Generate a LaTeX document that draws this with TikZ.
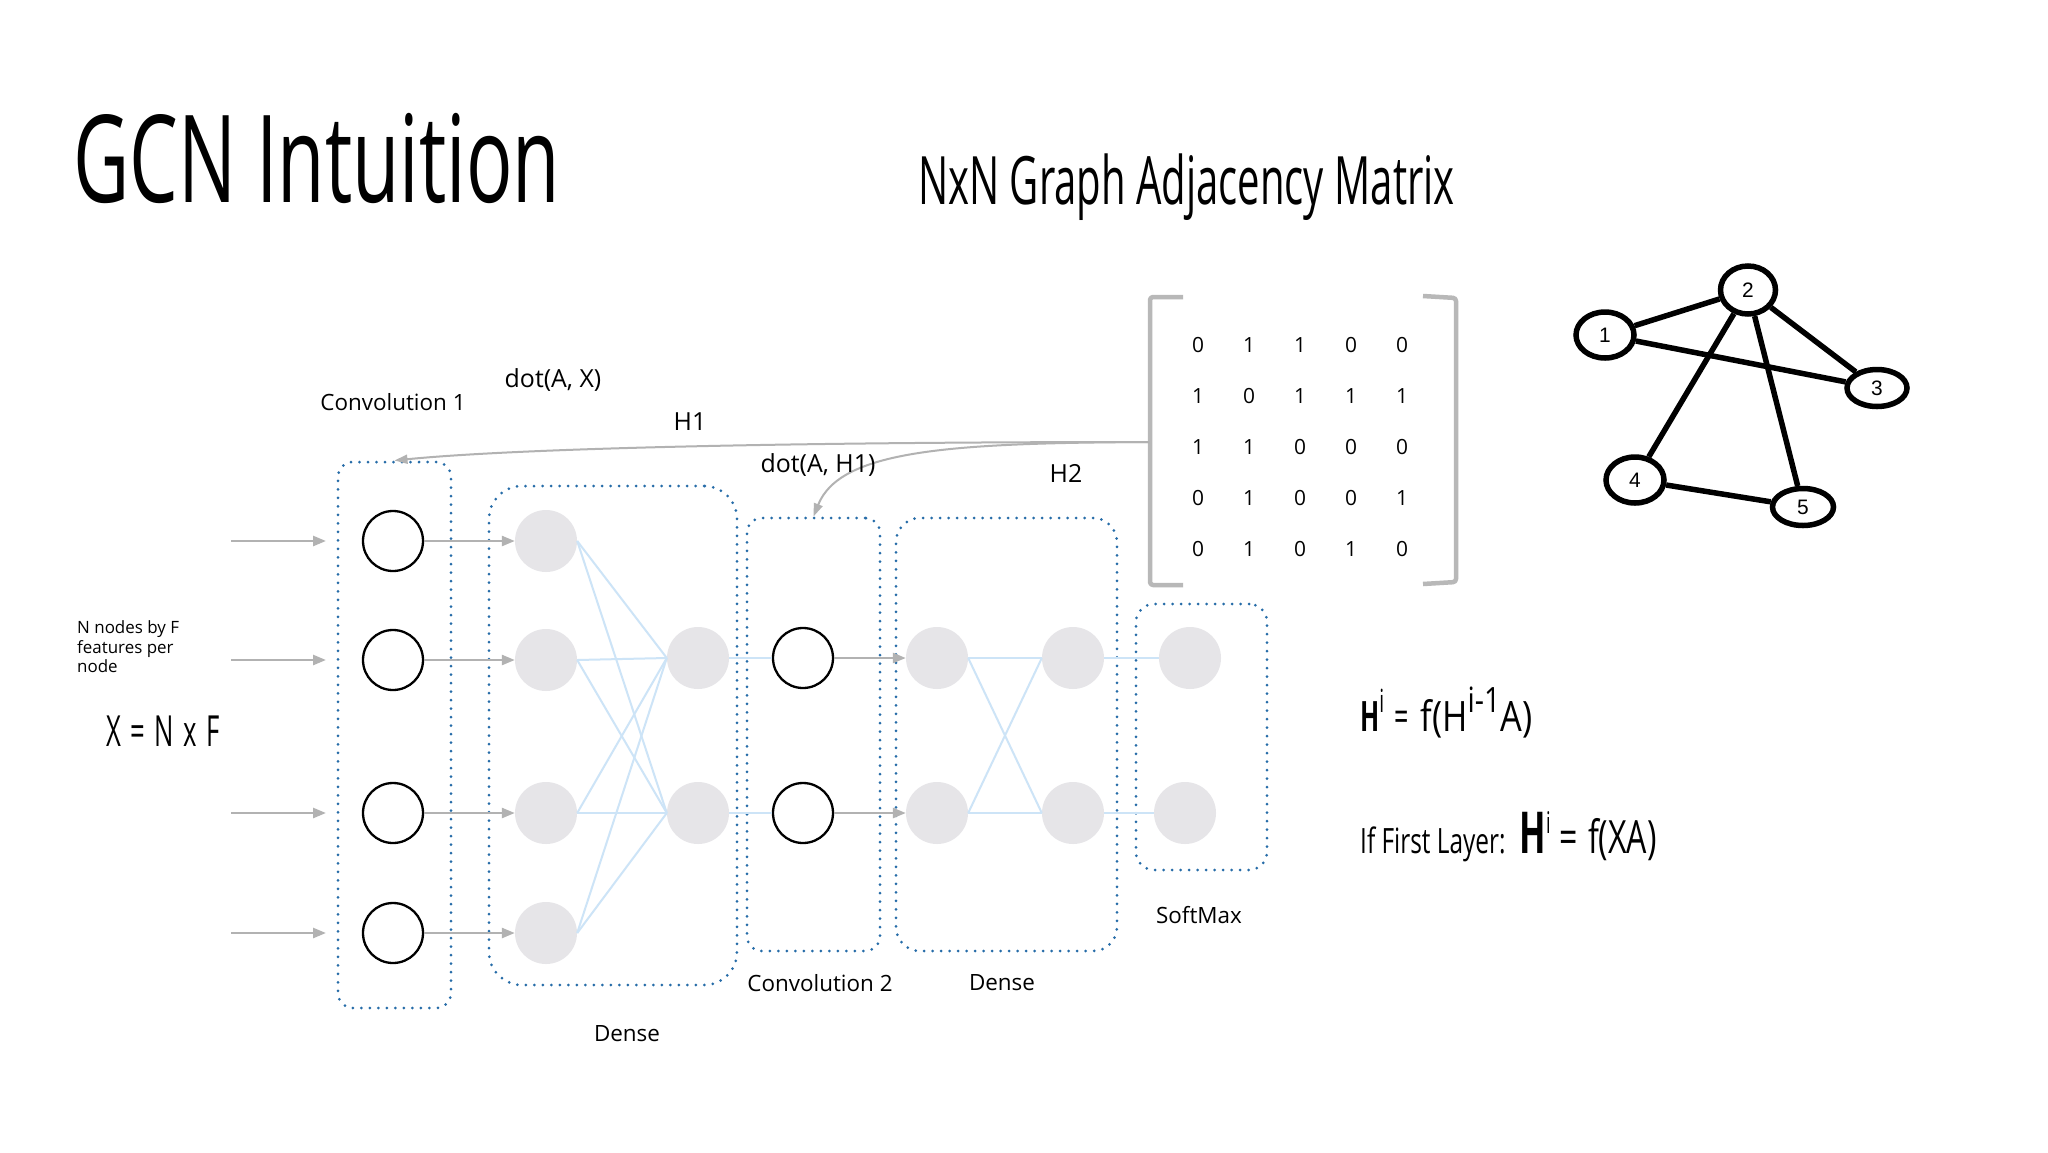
\documentclass[tikz,border=0pt]{standalone}
\usepackage{fontspec}
\setmainfont{Open Sans}
\newfontfamily\condfont[FakeStretch=0.6]{Open Sans}
\newfontfamily\titlefont[FakeStretch=0.635]{Open Sans}
\newfontfamily\eqfont[FakeStretch=0.82]{Open Sans}
\newfontfamily\eqfontb[FakeStretch=0.7]{Open Sans}
\newfontfamily\arialfont{Liberation Sans}
\usetikzlibrary{arrows.meta,shapes.geometric}
\definecolor{dotblue}{RGB}{38,108,168}
\definecolor{nodegray}{RGB}{230,229,232}
\definecolor{fcblue}{RGB}{205,228,247}
\definecolor{arrgray}{RGB}{178,178,178}
\definecolor{brgray}{RGB}{184,184,184}
\newcommand\myfs[1]{\fontsize{#1}{#1}\selectfont}
\begin{document}
\begin{tikzpicture}[x=1bp,y=-1bp,
  lbl/.style={font=\myfs{22.5}, inner sep=0},
  biglbl/.style={font=\myfs{25}, inner sep=0},
  layerbox/.style={draw=dotblue, line width=3bp, dash pattern=on 0bp off 8.5bp, line cap=round, rectangle, inner sep=0},
  neuron/.style={circle, draw=black, line width=2.3bp, minimum size=60bp, inner sep=0},
  gnode/.style={circle, fill=nodegray, minimum size=62bp, inner sep=0},
  fc/.style={draw=fcblue, line width=2bp},
  garrow/.style={draw=arrgray, line width=2.5bp, -{Triangle[length=13bp,width=10bp]}},
  farrow/.style={draw=arrgray, line width=2bp, -{Triangle[length=13bp,width=9bp]}},
  gvert/.style={ellipse, draw=black, line width=5.5bp, inner sep=0, font=\arialfont\myfs{21}},
  gedge/.style={draw=black, line width=5.5bp},
  mdigit/.style={font=\myfs{21}, inner sep=0},
  cond/.style={inner sep=0, anchor=base west},
]
\useasboundingbox (0,0) rectangle (2048,1152);
\fill[white] (0,0) rectangle (2048,1152);

% titles
\node[cond, font=\titlefont\myfs{122}] (title) at (73,202) {GCN Intuition};
\node[cond, font=\condfont\myfs{67}] (mtitle) at (918,204) {NxN Graph Adjacency Matrix};

% layer boxes
\node[layerbox, rounded corners=15bp, minimum width=113bp, minimum height=546bp] (conv1box) at (394.5,735) {};
\node[layerbox, rounded corners=33bp, minimum width=248bp, minimum height=499bp] (dense1box) at (613,735.5) {};
\node[layerbox, rounded corners=15bp, minimum width=133bp, minimum height=433bp] (conv2box) at (813.5,734.5) {};
\node[layerbox, rounded corners=24bp, minimum width=221bp, minimum height=433bp] (dense2box) at (1006.5,734.5) {};
\node[layerbox, rounded corners=18bp, minimum width=131bp, minimum height=266bp] (softbox) at (1201.5,737) {};

% conv1 neurons and inputs
\foreach \y [count=\i] in {541,660,813,933} {
  \node[neuron] (c1\i) at (393,\y) {};
  \node[gnode] (d1l\i) at (546,\y) {};
  \coordinate (in\i) at (231,\y);
  \coordinate (ie\i) at (326,\y);
}
\foreach \y [count=\i] in {658,813} {
  \node[gnode] (d1r\i) at (698,\y) {};
  \node[neuron] (c2\i) at (803,\y) {};
  \node[gnode] (d2l\i) at (937,\y) {};
  \node[gnode] (d2r\i) at (1073,\y) {};
}
\node[gnode] (sm1) at (1190,658) {};
\node[gnode] (sm2) at (1185,813) {};

% connections
\foreach \i in {1,...,4} {
  \draw[garrow] (in\i) -- (ie\i);
  \draw[garrow] (c1\i) -- (d1l\i);
  \foreach \j in {1,2} \draw[fc] (d1l\i.east) -- (d1r\j.west);
}
\foreach \j in {1,2} {
  \draw[fc] (d1r\j.east) -- (c2\j.west);
  \draw[garrow] (c2\j) -- (d2l\j);
  \foreach \i in {1,2} \draw[fc] (d2l\i.east) -- (d2r\j.west);
  \draw[fc] (d2r\j.east) -- (sm\j.west);
}

% matrix
\draw[brgray, line width=4.5bp, line join=round, rounded corners=3bp] (1183,297) -- (1150,297) -- (1150,585) -- (1183,585);
\draw[brgray, line width=4.5bp, line join=round, rounded corners=3bp] (1423,296) -- (1456,298) -- (1456,582) -- (1423,584);
\foreach \row [count=\r] in {{0,1,1,0,0},{1,0,1,1,1},{1,1,0,0,0},{0,1,0,0,1},{0,1,0,1,0}} {
  \foreach \v [count=\c] in \row {
    \node[mdigit] (m\r\c) at ({1147+51*\c},{294+51*\r}) {\v};
  }
}
\coordinate (matL) at (1149,442);
\draw[farrow] (matL) .. controls (800,442) and (520,448) .. (conv1box.north);
\draw[farrow] (matL) .. controls (950,443) and (840,450) .. (conv2box.north);

% labels
\node[lbl] (lconv1) at (393,402) {Convolution 1};
\node[biglbl] (ldotx) at (553,380) {dot(A, X)};
\node[biglbl] (lh1) at (690,422) {H1};
\node[biglbl] (ldoth1) at (818,465) {dot(A, H1)};
\node[biglbl] (lh2) at (1066,473) {H2};
\node[lbl] (lconv2) at (820,983) {Convolution 2};
\node[lbl] (ldense2) at (1002,983) {Dense};
\node[lbl] (lsoft) at (1199,915) {SoftMax};
\node[lbl] (ldense1) at (627,1034) {Dense};

\node[font=\fontsize{17}{20}\selectfont, align=left, anchor=north west, inner sep=0] (nfeat) at (77,620) {N nodes by F\\features per\\node};
\node[cond, font=\condfont\myfs{43}] (xeq) at (106,746) {X\hspace{9.5bp}=\hspace{9.5bp}N\hspace{9.5bp}x\hspace{9.5bp}F};

% formulas
\node[cond, font=\condfont\myfs{42}] (eq1) at (1360,731) {\textbf{H}\raisebox{19bp}{\myfs{32}i}\hspace{10bp}=\hspace{12bp}{\eqfont f(H\raisebox{19bp}{\myfs{35}i-1}A)}};
\node[cond, font=\eqfontb\myfs{35}] (eq2) at (1360,853) {If First Layer:\hspace{14bp}{\condfont\myfs{58}\textbf{H}}\raisebox{20bp}{\condfont\myfs{30}i}\hspace{9bp}{\myfs{46}=\hspace{10bp}f(XA)}};

% graph
\node[gvert, minimum width=58bp, minimum height=46bp] (g1) at (1605,335) {1};
\node[gvert, minimum width=55bp, minimum height=48bp] (g2) at (1748,290) {2};
\node[gvert, minimum width=60bp, minimum height=37bp] (g3) at (1877,388) {3};
\node[gvert, minimum width=58bp, minimum height=46bp] (g4) at (1635,480) {4};
\node[gvert, minimum width=61bp, minimum height=37bp] (g5) at (1803,507) {5};
\draw[gedge] (g1) -- (g2);
\draw[gedge] (g1) -- (g3);
\draw[gedge] (g2) -- (g3);
\draw[gedge] (g2) -- (g4);
\draw[gedge] (g2) -- (g5);
\draw[gedge] (g4) -- (g5);
\end{tikzpicture}
\end{document}
